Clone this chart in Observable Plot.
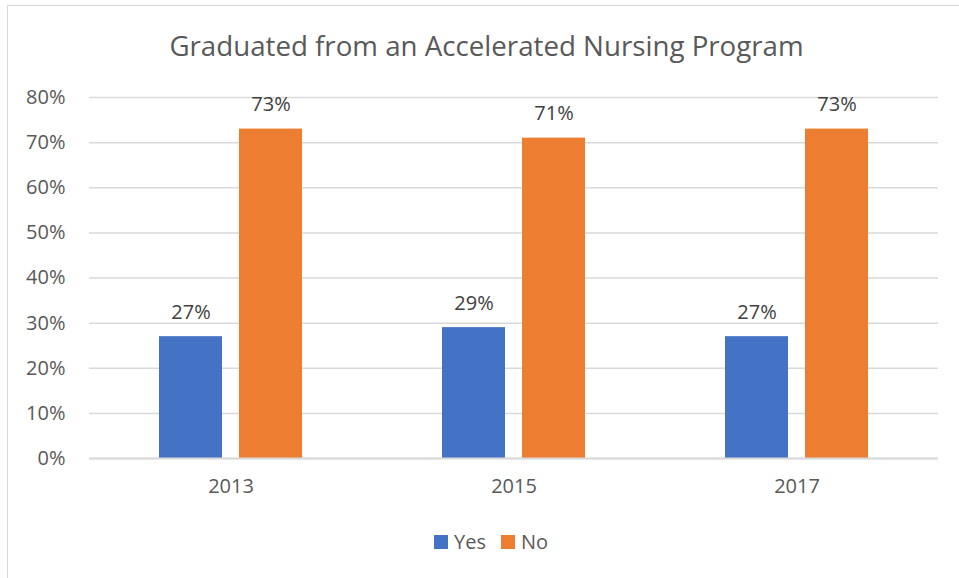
<!DOCTYPE html>
<html>
<head>
<meta charset="utf-8">
<script src="https://cdn.jsdelivr.net/npm/d3@7"></script>
<script src="https://cdn.jsdelivr.net/npm/@observablehq/plot@0.6"></script>
<style>
  html, body { margin: 0; padding: 0; background: #fff; }
  body { width: 959px; height: 578px; position: relative; overflow: hidden; font-family: "Open Sans", sans-serif; }
  #frame { position: absolute; left: 7px; top: 5px; width: 1000px; height: 1000px; border-top: 1.5px solid #d9d9d9; border-left: 1.5px solid #d9d9d9; }
  #title { position: absolute; left: 0; width: 973px; top: 26px; text-align: center; font-size: 27.7px; color: #595959; white-space: nowrap; }
  #chart { position: absolute; left: 0; top: 0; }
  #legend { position: absolute; top: 528px; left: 434px; font-size: 20px; color: #595959; display: flex; align-items: center; }
  .sw { display: inline-block; width: 14px; height: 14px; margin-right: 6px; }
  .item { display: flex; align-items: center; margin-right: 15px; }
</style>
</head>
<body>
<div id="frame"></div>
<div id="title">Graduated from an Accelerated Nursing Program</div>
<div id="chart"></div>
<div id="legend"></div>
<script>
const years = ["2013", "2015", "2017"];
const series = ["Yes", "No"];
const yesValues = [0.27, 0.29, 0.27];
const noValues = [0.73, 0.71, 0.73];
const colors = ["#4472C4", "#ED7D31"];
const yTicks = [0, 0.1, 0.2, 0.3, 0.4, 0.5, 0.6, 0.7, 0.8];

const data = [];
years.forEach((y, i) => {
  data.push({year: y, series: "Yes", value: yesValues[i]});
  data.push({year: y, series: "No", value: noValues[i]});
});

const pct = d3.format(".0%");

const chart = Plot.plot({
  width: 959,
  height: 578,
  marginTop: 97,
  marginBottom: 120,
  marginLeft: 88,
  marginRight: 21,
  style: {fontFamily: "Open Sans, sans-serif", fontSize: "20px", color: "#595959", background: "transparent"},
  fx: {domain: years, padding: 0, label: null},
  x: {domain: series, paddingInner: 0.216, paddingOuter: 0.857, axis: null},
  y: {domain: [0, 0.8], label: null},
  color: {domain: series, range: colors},
  marks: [
    Plot.gridY(yTicks, {stroke: "#d9d9d9", strokeOpacity: 1, strokeWidth: 1.5}),
    Plot.barY(data, {fx: "year", x: "series", y: "value", fill: "series"}),
    Plot.ruleY([0], {stroke: "#d9d9d9", strokeWidth: 2}),
    Plot.text(data, {fx: "year", x: "series", y: "value", text: d => pct(d.value), dy: -24.5, fill: "#404040", fontSize: 20}),
    Plot.axisY({ticks: yTicks, tickFormat: pct, tickSize: 0, tickPadding: 24, label: null, fontSize: 20}),
    Plot.axisFx({anchor: "bottom", tickSize: 0, tickPadding: 20, label: null, fontSize: 20})
  ]
});
document.getElementById("chart").appendChild(chart);

const legend = document.getElementById("legend");
series.forEach((s, i) => {
  const item = document.createElement("div");
  item.className = "item";
  const sw = document.createElement("span");
  sw.className = "sw";
  sw.style.background = colors[i];
  item.appendChild(sw);
  item.appendChild(document.createTextNode(s));
  legend.appendChild(item);
});
</script>
</body>
</html>
